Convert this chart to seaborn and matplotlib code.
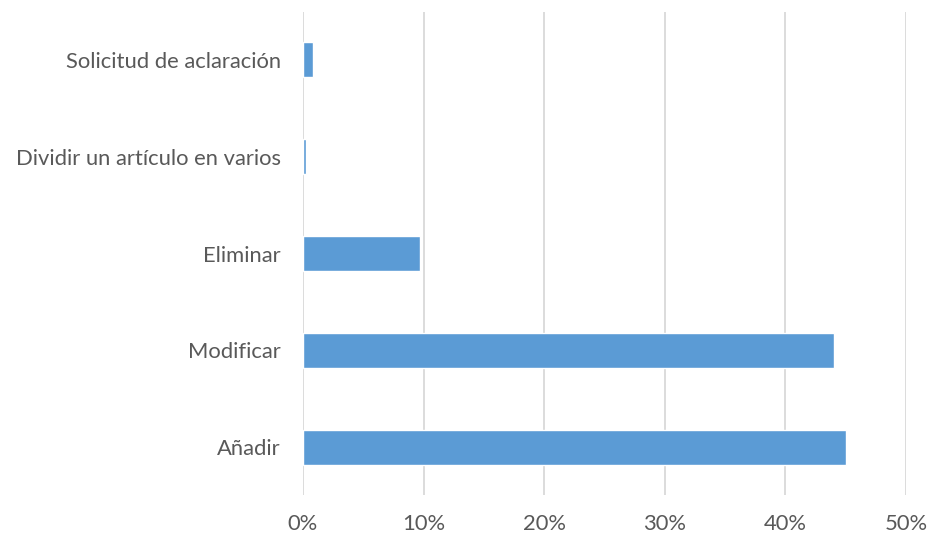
import numpy as np
import pandas as pd
import matplotlib
matplotlib.use("Agg")
from matplotlib import pyplot as plt
from matplotlib.ticker import FuncFormatter
import seaborn as sns

categorias = ["Solicitud de aclaración", "Dividir un artículo en varios",
              "Eliminar", "Modificar", "Añadir"]
porcentajes = [0.83, 0.28, 9.7, 44.0, 45.0]

df = pd.DataFrame({"categoria": categorias, "porcentaje": porcentajes})

sns.set_theme(style="white")
plt.rcParams['font.family'] = ['Lato', 'DejaVu Sans']

fig = plt.figure(figsize=(9.28, 5.38), dpi=100)
ax = fig.add_axes([0.3265, 0.079, 0.6498, 0.8996])

sns.barplot(data=df, x="porcentaje", y="categoria", color="#5B9BD5",
            saturation=1, width=0.36, orient="h", ax=ax)

ax.set_xlim(0, 50)
ax.set_xticks(np.arange(0, 51, 10))
ax.xaxis.set_major_formatter(FuncFormatter(lambda v, p: f"{v:.0f}%"))
ax.grid(axis="x", color="#D9D9D9", linewidth=1.3)
ax.set_axisbelow(True)
for s in ax.spines.values():
    s.set_visible(False)
ax.set_xlabel("")
ax.set_ylabel("")
ax.tick_params(axis="both", length=0, labelsize=15.8, colors="#595959")
ax.tick_params(axis="y", pad=16)
ax.tick_params(axis="x", pad=13)

fig.savefig("out.png", dpi=100)
